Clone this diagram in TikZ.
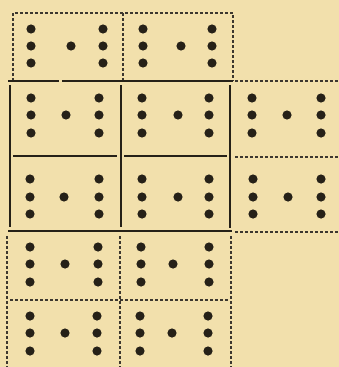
\documentclass[tikz,border=0pt]{standalone}
\definecolor{paper}{RGB}{242,224,172}
\definecolor{ink}{RGB}{38,33,24}
\begin{document}
\begin{tikzpicture}[x=1pt,y=-1pt,
  pip/.style={fill=ink},
  rule/.style={draw=ink,line width=2pt},
  cut/.style={draw=ink!90,line width=1.1pt,dash pattern=on 2.8pt off 2.2pt}]
\fill[paper] (0,0) rectangle (339,367);
\useasboundingbox (0,0) rectangle (339,367);
% pips: \mypips{x1}{x2}{x3}{y1}{y2}{y3}
\newcommand\mypips[6]{%
  \foreach \yy in {#4,#5,#6}{\fill[pip] (#1,\yy) circle (4.6); \fill[pip] (#3,\yy) circle (4.6);}
  \fill[pip] (#2,#5) circle (4.6);}
% row 0 (dashed)
\draw[cut] (13,81) -- (13,13) -- (233,13) -- (233,81);
\draw[cut] (123,13) -- (123,81);
\mypips{31}{71}{103}{29}{46}{63}
\mypips{143}{181}{212}{29}{46}{63}
% solid block
\draw[rule] (8,81) -- (59,81) (62,81) -- (233,81);
\draw[rule] (8,231) -- (232,231);
\draw[rule] (10,85) -- (10,227);
\draw[rule] (121,85) -- (121,227);
\draw[rule] (230,85) -- (230,228);
\draw[rule] (13,156) -- (117,156) (124,156) -- (227,156);
\mypips{31}{66}{99}{98}{115}{133}
\mypips{142}{178}{209}{98}{115}{133}
\mypips{30}{64}{99}{179}{197}{214}
\mypips{142}{178}{209}{179}{197}{214}
% right dashed column
\draw[cut] (235,81) -- (339,81);
\draw[cut] (235,157) -- (339,157);
\draw[cut] (235,232) -- (339,232);
\mypips{252}{287}{321}{98}{115}{133}
\mypips{253}{288}{321}{179}{197}{214}
% bottom dashed rows
\draw[cut] (7,236) -- (7,367);
\draw[cut] (120,236) -- (120,367);
\draw[cut] (231,236) -- (231,367);
\draw[cut] (10,300) -- (228,300);
\mypips{30}{65}{98}{247}{264}{282}
\mypips{141}{173}{209}{247}{264}{282}
\mypips{30}{65}{97}{316}{333}{351}
\mypips{140}{172}{208}{316}{333}{351}
\end{tikzpicture}
\end{document}
